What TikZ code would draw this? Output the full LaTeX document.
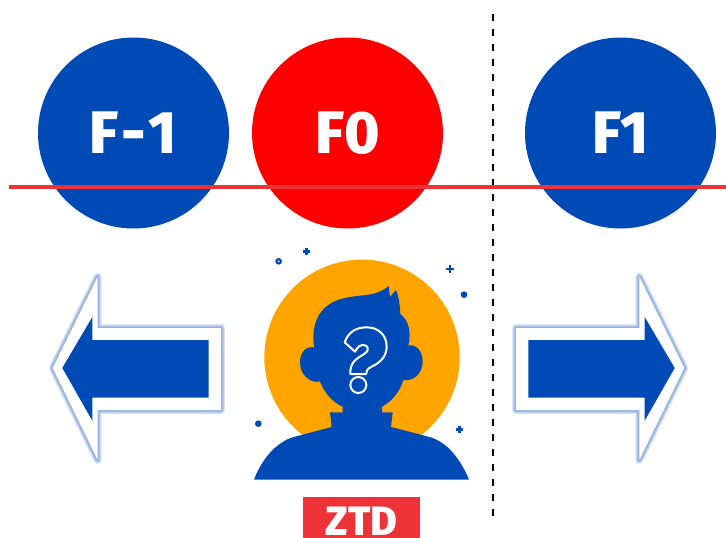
\documentclass[tikz,border=0pt]{standalone}
\usepackage{fontspec}
\setmainfont{Fira Sans}[BoldFont={Fira Sans ExtraBold}]
\definecolor{ztdblue}{HTML}{004AB5}
\definecolor{ztdred}{HTML}{EE3338}
\definecolor{ztdorange}{HTML}{FFA500}
\tikzset{
  frame/.style={circle,minimum size=191pt,inner sep=0pt,text=white,font=\bfseries\fontsize{60}{60}\selectfont},
  spark/.style={line width=2.6pt,ztdblue},
}
\newcommand{\arrowouter}{(52.7,368)--(97.7,276.7)--(97.7,328)--(221,328)--(221,410)--(97.7,410)--(97.7,460)--cycle}
\newcommand{\arrowinner}{(62.3,368)--(92.3,317)--(92.3,340)--(208.7,340)--(208.7,397.7)--(92.3,397.7)--(92.3,420.7)--cycle}
\begin{document}
\begin{tikzpicture}[x=1pt,y=-1pt]
\useasboundingbox (0,0) rectangle (726,538);
\fill[white] (0,0) rectangle (726,538);

% the three frames
\node[frame,fill=ztdblue] (fm) at (133.5,133) {F\kern2pt-\kern3pt1};
\node[frame,fill=red] (fz) at (347.5,133) {F0};
\node[frame,fill=ztdblue] (fp) at (620.5,133) {F1};

\coordinate (dashtop) at (493,14);
\coordinate (dashbot) at (493,522);
\draw[line width=1.4pt,dash pattern=on 7pt off 8pt] (dashtop)--(dashbot);
\coordinate (linel) at (9,187);
\coordinate (liner) at (726,187);
\draw[ztdred,line width=3.6pt] (linel)--(liner);

% left and right arrow
\foreach \m/\t in {0/1,1/-1}
{
  \begin{scope}[xshift=\m*737pt,x=\t pt]
    \foreach \w in {8,6.5,5,3.5,2}
    {
      \draw[ztdblue!80!white,opacity=.14,line width=\w pt,line join=round] \arrowouter;
    }
    \fill[white] \arrowouter;
    \fill[ztdblue] \arrowinner;
  \end{scope}
}

% person
\fill[ztdorange] (362,357.3) circle(97.7);
\begin{scope}[shift={(240,240)},scale=1/3]
  \fill[ztdblue] (42,719) .. controls (62,665) and (105,605) .. (165,590)
    --(275,561)--(270,517)--(308,517)--(308,500)
    .. controls (275,485) and (255,460) .. (240,425)
    .. controls (205,430) and (180,400) .. (180,367)
    .. controls (180,335) and (200,318) .. (223,322)
    .. controls (215,280) and (222,225) .. (265,195)
    .. controls (305,165) and (370,170) .. (405,160)
    .. controls (420,155) and (435,148) .. (446,138)
    --(450,171)--(468,150)
    .. controls (476,170) and (480,195) .. (481,222)
    .. controls (505,240) and (515,275) .. (505,316)
    .. controls (530,312) and (548,335) .. (548,365)
    .. controls (548,400) and (520,425) .. (490,420)
    .. controls (480,455) and (455,485) .. (426,500)
    --(426,517)--(458,517)--(453,561)--(565,590)
    .. controls (625,605) and (665,665) .. (687,719)--cycle;
  \draw[white,line width=2pt,line join=round]
    (314,307) .. controls (325,275) and (350,262) .. (380,262)
    .. controls (415,262) and (440,285) .. (440,320)
    .. controls (440,350) and (420,368) .. (395,380)
    .. controls (383,386) and (378,392) .. (378,402)
    --(331,402)
    .. controls (330,370) and (345,358) .. (368,345)
    .. controls (385,335) and (388,325) .. (378,317)
    .. controls (365,310) and (352,320) .. (345,335)--cycle;
  \draw[white,line width=2pt] (355,435) circle(24);
  \foreach \x/\y in {116/64,672/164,55/551}
  {
    \fill[ztdblue] (\x,\y) circle(10);
  }
  \fill[white] (116,64) circle(3);
  \foreach \x/\y in {200/34,630/87,658/568}
  {
    \draw[spark] (\x-11,\y)--(\x+11,\y);
    \draw[spark] (\x,\y-11)--(\x,\y+11);
  }
\end{scope}

\node[fill=ztdred,text=white,minimum width=117pt,inner sep=0pt,text height=38pt,text depth=3pt,font=\bfseries\fontsize{41}{41}\selectfont] (ztd) at (361.5,517.5) {ZTD};
\end{tikzpicture}
\end{document}
